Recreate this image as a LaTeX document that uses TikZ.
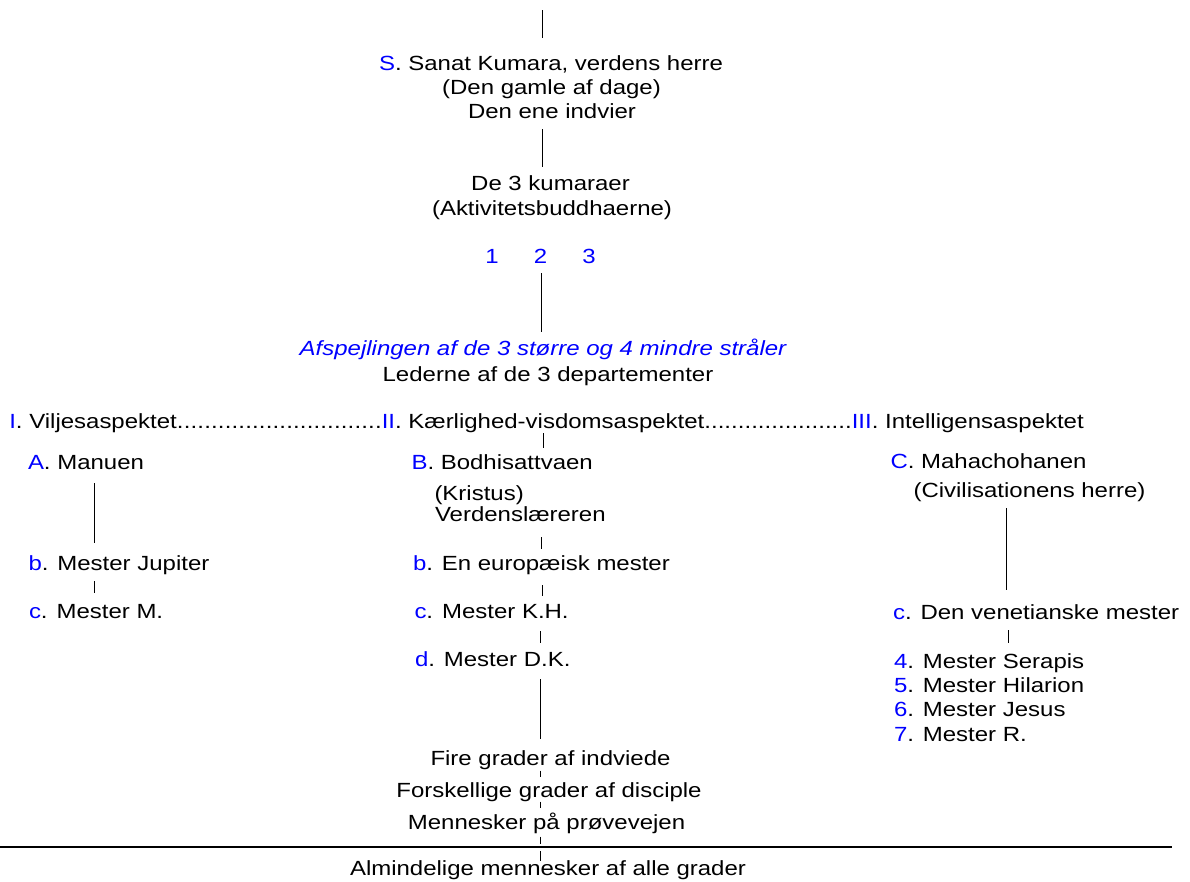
\documentclass[tikz,border=0pt]{standalone}
\usepackage{fontspec}
\setmainfont{Liberation Sans}[FakeStretch=1.17]
\definecolor{refblue}{RGB}{0,0,255}
\newcommand\bl[1]{\textcolor{refblue}{#1}}
\begin{document}
\begin{tikzpicture}[x=1pt,y=-1pt,
  every node/.style={inner sep=0pt, outer sep=0pt, font=\fontsize{20.5}{24.5}\selectfont},
  lt/.style={anchor=base west},
  ct/.style={anchor=base},
  conn/.style={line width=1pt, black},
  rule/.style={line width=2.2pt, black}]
\useasboundingbox (0,0) rectangle (1190,881);

% top
\node[ct] (sk1) at (551,70) {\bl{S}. Sanat Kumara, verdens herre};
\node[ct] (sk2) at (551.5,94.3) {(Den gamle af dage)};
\node[ct] (sk3) at (552,118.3) {Den ene indvier};
\node[ct] (ku1) at (550.5,190.7) {De 3 kumaraer};
\node[ct] (ku2) at (552,215) {(Aktivitetsbuddhaerne)};
\node[ct] (n1) at (492,263.3) {\bl{1}};
\node[ct] (n2) at (540.5,263.3) {\bl{2}};
\node[ct] (n3) at (589,263.3) {\bl{3}};
\node[ct] (af) at (543,355) {\color{refblue}\itshape Afspejlingen af de 3 større og 4 mindre stråler};
\node[ct] (le) at (548,381.7) {Lederne af de 3 departementer};

% row of departments
\node[lt] (row) at (9.3,428.3) {\makebox[372.5pt][l]{\bl{I}. Viljesaspektet\xleaders\hbox{.}\hfill}\makebox[470pt][l]{\bl{II}. Kærlighed-visdomsaspektet\xleaders\hbox{.}\hfill}\bl{III}. Intelligensaspektet};

% left column
\node[lt] (A) at (28,469.3) {\bl{A}. Manuen};
\node[lt] (Lb) at (28.5,570) {\bl{b}. Mester Jupiter};
\node[lt] (Lc) at (29,618) {\bl{c}. Mester M.};

% middle column
\node[lt] (B) at (411.5,469.3) {\bl{B}. Bodhisattvaen};
\node[lt] (Bk) at (434.5,500) {(Kristus)};
\node[lt] (Bv) at (435,521.5) {Verdenslæreren};
\node[lt] (Mb) at (413,570) {\bl{b}. En europæisk mester};
\node[lt] (Mc) at (414.5,618.5) {\bl{c}. Mester K.H.};
\node[lt] (Md) at (415,666.5) {\bl{d}. Mester D.K.};

% right column
\node[lt] (C) at (890.5,468.3) {\bl{C}. Mahachohanen};
\node[lt] (Cc) at (913.5,497) {(Civilisationens herre)};
\node[lt] (Rc) at (893,619.3) {\bl{c}. Den venetianske mester};
\node[lt] (R4) at (894,668.3) {\bl{4}. Mester Serapis};
\node[lt] (R5) at (894,692.7) {\bl{5}. Mester Hilarion};
\node[lt] (R6) at (894,716.7) {\bl{6}. Mester Jesus};
\node[lt] (R7) at (894,741.7) {\bl{7}. Mester R.};

% bottom
\node[ct] (f1) at (550.5,765) {Fire grader af indviede};
\node[ct] (f2) at (549,797) {Forskellige grader af disciple};
\node[ct] (f3) at (546.5,829) {Mennesker på prøvevejen};
\node[ct] (al) at (548,875.5) {Almindelige mennesker af alle grader};

% connector end points
\coordinate (t0) at (542.3,10);   \coordinate (t1) at (542.3,38.3);
\coordinate (s0) at (542.3,129);  \coordinate (s1) at (542.3,167);
\coordinate (k0) at (541.7,273);  \coordinate (k1) at (541.7,332);
\coordinate (m0) at (543.5,433);  \coordinate (m1) at (543.5,447.5);
\coordinate (m2) at (541.5,537);  \coordinate (m3) at (541.5,549);
\coordinate (m4) at (542.3,585);  \coordinate (m5) at (542.3,596);
\coordinate (m6) at (540.7,631);  \coordinate (m7) at (540.7,643);
\coordinate (m8) at (540.7,679);  \coordinate (m9) at (540.7,739);
\coordinate (f10) at (540.7,770.7); \coordinate (f11) at (540.7,776.7);
\coordinate (f20) at (540.7,801.7); \coordinate (f21) at (540.7,808.3);
\coordinate (f30) at (540.7,836.7); \coordinate (f31) at (540.7,844);
\coordinate (f40) at (540.7,851);   \coordinate (f41) at (540.7,861);
\coordinate (l0) at (94.3,483.3); \coordinate (l1) at (94.3,542.7);
\coordinate (l2) at (94.3,581);   \coordinate (l3) at (94.3,593.3);
\coordinate (r0) at (1006.7,508); \coordinate (r1) at (1006.7,590);
\coordinate (r2) at (1008.3,630); \coordinate (r3) at (1008.3,642.7);
\coordinate (h0) at (0,846.6);    \coordinate (h1) at (1171.7,846.6);

\draw[conn] (t0) -- (t1);
\draw[conn] (s0) -- (s1);
\draw[conn] (k0) -- (k1);
\draw[conn] (m0) -- (m1);
\draw[conn] (m2) -- (m3);
\draw[conn] (m4) -- (m5);
\draw[conn] (m6) -- (m7);
\draw[conn] (m8) -- (m9);
\draw[conn] (f10) -- (f11);
\draw[conn] (f20) -- (f21);
\draw[conn] (f30) -- (f31);
\draw[conn] (f40) -- (f41);
\draw[conn] (l0) -- (l1);
\draw[conn] (l2) -- (l3);
\draw[conn] (r0) -- (r1);
\draw[conn] (r2) -- (r3);
\draw[rule] (h0) -- (h1);
\end{tikzpicture}
\end{document}
